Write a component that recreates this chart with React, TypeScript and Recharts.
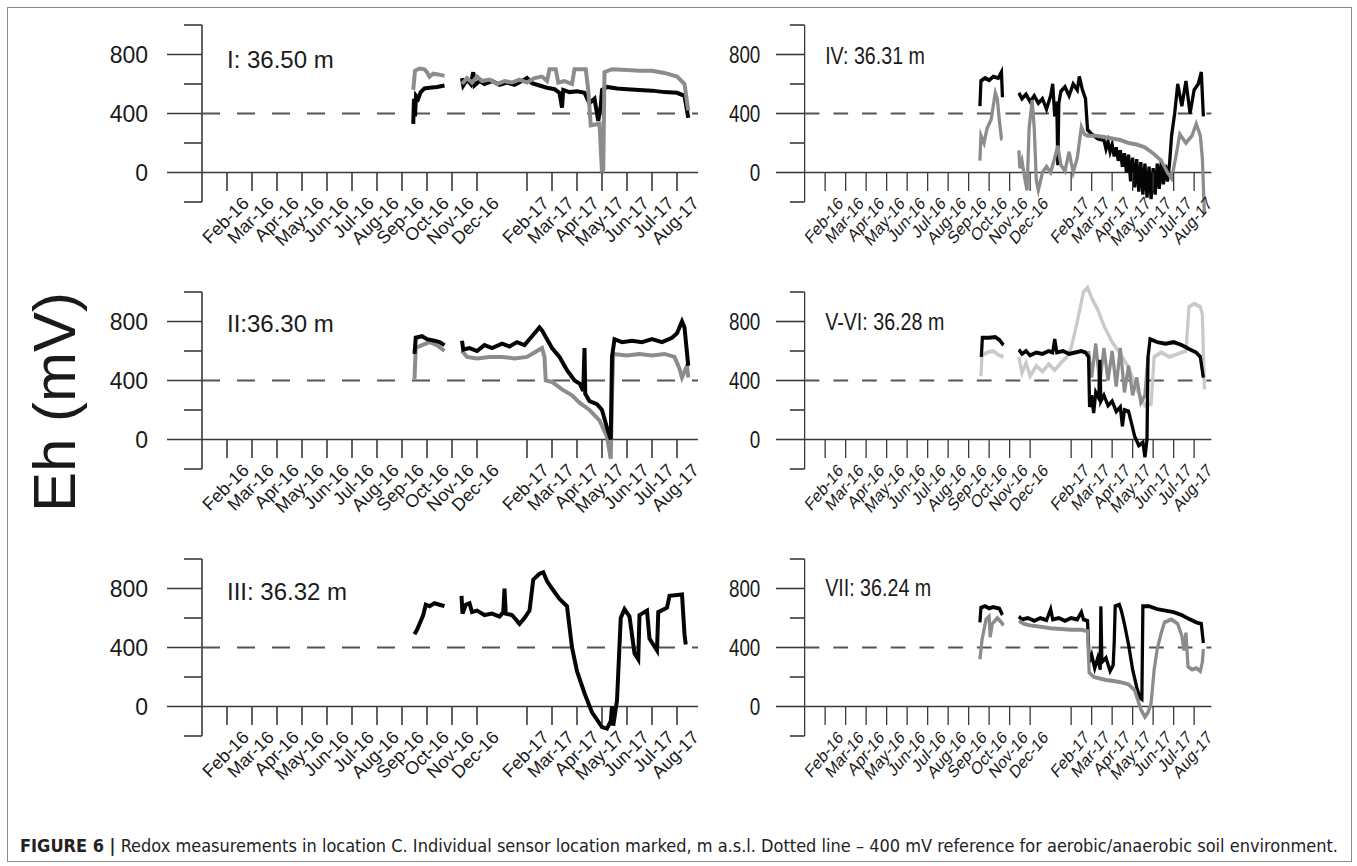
import React from "react"
import { LineChart, Line, XAxis, YAxis, ReferenceLine } from "recharts"

type Pt = [number, number | null]

// x = months counted from Jan-16 (= 0); Jan-17 has no tick
const MONTH_TICKS = [1, 2, 3, 4, 5, 6, 7, 8, 9, 10, 11, 13, 14, 15, 16, 17, 18, 19]
const MONTH_LABELS = [
  "Feb-16", "Mar-16", "Apr-16", "May-16", "Jun-16", "Jul-16", "Aug-16", "Sep-16", "Oct-16",
  "Nov-16", "Dec-16", "Feb-17", "Mar-17", "Apr-17", "May-17", "Jun-17", "Jul-17", "Aug-17",
]
const Y_TICKS = [-200, 0, 200, 400, 600, 800, 1000]
const Y_LABELLED = [0, 400, 800]
const AEROBIC_LIMIT = 400

// I: 36.50 m
const I_BLACK: Pt[] = [
  [8.45, 330], [8.48, 500], [8.52, 380], [8.56, 520], [8.65, 500], [8.75, 545], [8.9, 570], [9.1, 575], [9.4, 580], [9.7, 590], [9.72, null],
  [10.4, 640], [10.45, 590], [10.6, 630], [10.75, 600], [10.85, 680], [10.9, 590], [11.1, 620], [11.3, 600], [11.6, 620], [11.9, 595],
  [12.2, 610], [12.5, 595], [12.8, 620], [13.0, 640], [13.2, 605], [13.5, 590], [13.8, 575], [14.1, 565], [14.3, 540], [14.4, 440],
  [14.45, 560], [14.7, 545], [15.0, 550], [15.3, 540], [15.5, 470], [15.7, 500], [15.85, 350], [15.95, 450], [16.0, 560], [16.2, 580],
  [16.6, 570], [17.0, 565], [17.5, 560], [18.0, 555], [18.5, 545], [19.0, 540], [19.3, 520], [19.45, 370],
]
const I_GRAY: Pt[] = [
  [8.45, 560], [8.52, 690], [8.7, 705], [8.9, 700], [9.0, 680], [9.1, 650], [9.25, 670], [9.45, 665], [9.7, 655], [9.72, null],
  [10.4, 600], [10.6, 640], [10.8, 610], [11.0, 650], [11.2, 620], [11.5, 630], [11.8, 600], [12.1, 620], [12.4, 610], [12.7, 630],
  [13.0, 610], [13.3, 640], [13.6, 650], [13.8, 620], [13.9, 700], [14.15, 700], [14.25, 610], [14.5, 620], [14.8, 600], [14.9, 700],
  [15.35, 700], [15.45, 560], [15.55, 320], [15.9, 330], [16.0, 0], [16.05, 20], [16.1, 680], [16.4, 700], [17.0, 695], [17.5, 690],
  [18.0, 690], [18.5, 675], [19.0, 650], [19.3, 600], [19.45, 420],
]

// II:36.30 m
const II_BLACK: Pt[] = [
  [8.5, 580], [8.55, 690], [8.8, 700], [9.0, 680], [9.3, 670], [9.5, 660], [9.7, 640], [9.72, null],
  [10.4, 670], [10.45, 610], [10.7, 620], [11.0, 600], [11.3, 640], [11.6, 620], [12.0, 650], [12.3, 630], [12.6, 660], [12.9, 640],
  [13.2, 700], [13.5, 760], [13.6, 740], [13.8, 680], [14.0, 620], [14.3, 560], [14.6, 470], [14.9, 400], [15.1, 380], [15.25, 330],
  [15.3, 620], [15.33, 310], [15.5, 260], [15.8, 240], [16.0, 200], [16.2, 80], [16.35, 0], [16.4, 560], [16.5, 680], [16.8, 660],
  [17.2, 670], [17.6, 660], [18.0, 680], [18.4, 660], [18.8, 690], [19.0, 720], [19.2, 800], [19.3, 760], [19.45, 500],
]
const II_GRAY: Pt[] = [
  [8.5, 410], [8.55, 620], [8.8, 640], [9.1, 660], [9.4, 640], [9.7, 600], [9.72, null],
  [10.4, 600], [10.6, 560], [11.0, 550], [11.5, 560], [12.0, 560], [12.5, 550], [13.0, 560], [13.4, 600], [13.6, 620], [13.7, 560],
  [13.75, 400], [14.0, 390], [14.4, 340], [14.8, 300], [15.1, 250], [15.5, 200], [15.9, 130], [16.2, 20], [16.35, -130], [16.4, 300],
  [16.45, 580], [17.0, 570], [17.5, 580], [18.0, 570], [18.5, 580], [18.9, 560], [19.1, 480], [19.2, 420], [19.4, 500], [19.45, 420],
]

// III: 36.32 m
const III_BLACK: Pt[] = [
  [8.5, 490], [8.6, 520], [8.75, 580], [8.85, 620], [8.95, 690], [9.1, 680], [9.3, 700], [9.5, 690], [9.7, 680], [9.72, null],
  [10.38, 750], [10.42, 630], [10.55, 690], [10.7, 700], [10.8, 640], [11.0, 650], [11.3, 620], [11.6, 630], [11.9, 610], [12.05, 640],
  [12.1, 800], [12.15, 630], [12.4, 620], [12.7, 560], [12.9, 600], [13.1, 650], [13.25, 860], [13.5, 900], [13.65, 910], [13.8, 850],
  [14.0, 800], [14.3, 730], [14.6, 680], [14.8, 400], [15.0, 240], [15.3, 90], [15.6, -40], [16.0, -140], [16.2, -150], [16.35, -100],
  [16.4, 0], [16.45, -130], [16.6, 40], [16.75, 600], [16.9, 660], [17.1, 610], [17.3, 360], [17.45, 320], [17.5, 620], [17.8, 650],
  [17.9, 460], [18.2, 380], [18.25, 640], [18.6, 670], [18.7, 750], [19.2, 760], [19.3, 490], [19.35, 420],
]

// IV: 36.31 m
const IV_BLACK: Pt[] = [
  [8.55, 450], [8.6, 620], [8.8, 640], [9.0, 625], [9.2, 650], [9.45, 640], [9.6, 680], [9.65, 510], [9.67, null],
  [10.45, 540], [10.6, 500], [10.8, 530], [11.0, 480], [11.2, 520], [11.4, 470], [11.6, 500], [11.8, 430], [12.0, 520], [12.1, 600],
  [12.2, 380], [12.3, 480], [12.35, 50], [12.4, 470], [12.5, 550], [12.7, 580], [12.9, 520], [13.1, 600], [13.3, 560], [13.4, 650],
  [13.55, 560], [13.7, 500], [13.8, 290], [14.0, 260], [14.3, 230], [14.6, 220], [14.7, 160], [14.8, 210], [14.9, 140], [15.0, 190],
  [15.1, 110], [15.2, 170], [15.3, 80], [15.4, 150], [15.5, 40], [15.6, 130], [15.7, 0], [15.8, 120], [15.9, -60], [16.0, 100],
  [16.1, -100], [16.2, 90], [16.3, -130], [16.4, 70], [16.5, -150], [16.6, 60], [16.7, -170], [16.8, 40], [16.9, -180], [17.0, 30],
  [17.1, -150], [17.2, 60], [17.3, -110], [17.4, 80], [17.5, -80], [17.6, 50], [17.7, -60], [17.8, 60], [17.9, 250], [18.05, 400],
  [18.2, 600], [18.4, 450], [18.6, 620], [18.8, 400], [19.0, 560], [19.2, 600], [19.35, 680], [19.45, 380],
]
const IV_GRAY: Pt[] = [
  [8.55, 80], [8.6, 250], [8.75, 200], [8.9, 300], [9.1, 360], [9.3, 540], [9.4, 500], [9.5, 350], [9.6, 230], [9.65, 230], [9.67, null],
  [10.45, 150], [10.5, 30], [10.6, 80], [10.75, -50], [10.85, -120], [10.95, 300], [11.1, 490], [11.2, 300], [11.3, -50], [11.4, -120],
  [11.6, 0], [11.8, 40], [12.0, 0], [12.2, 100], [12.35, 180], [12.5, 50], [12.7, 10], [12.9, 140], [13.1, 0], [13.3, 100], [13.5, 310],
  [13.65, 260], [13.8, 250], [14.2, 250], [14.6, 240], [15.0, 230], [15.4, 220], [15.8, 200], [16.2, 190], [16.6, 170], [17.0, 130],
  [17.4, 80], [17.7, 0], [17.9, -40], [18.1, 100], [18.3, 260], [18.6, 200], [18.9, 250], [19.1, 330], [19.3, 250], [19.4, 100], [19.5, -280],
]

// V-VI: 36.28 m
const VVI_BLACK: Pt[] = [
  [8.62, 560], [8.67, 690], [9.0, 690], [9.3, 695], [9.5, 675], [9.7, 640], [9.72, null],
  [10.45, 610], [10.6, 580], [10.8, 600], [11.0, 570], [11.3, 590], [11.6, 580], [11.9, 600], [12.1, 590], [12.2, 680], [12.3, 590],
  [12.6, 600], [12.9, 580], [13.2, 590], [13.5, 600], [13.7, 590], [13.85, 560], [13.9, 220], [14.0, 300], [14.1, 180], [14.2, 320],
  [14.35, 280], [14.4, 540], [14.45, 260], [14.6, 300], [14.8, 230], [15.0, 260], [15.2, 190], [15.4, 220], [15.5, 90], [15.6, 200],
  [15.8, 190], [16.0, 80], [16.1, 20], [16.3, -40], [16.5, -20], [16.6, -120], [16.7, 0], [16.75, 560], [16.85, 680], [17.2, 660],
  [17.6, 650], [18.0, 660], [18.4, 640], [18.8, 610], [19.1, 590], [19.3, 560], [19.45, 420],
]
const VVI_MID: Pt[] = [
  [13.85, 600], [14.0, 420], [14.2, 650], [14.4, 380], [14.6, 620], [14.8, 400], [15.0, 600], [15.2, 360], [15.4, 620], [15.6, 320],
  [15.8, 500], [16.0, 300], [16.2, 420], [16.4, 250], [16.6, 300], [16.75, 560],
]
const VVI_LIGHT: Pt[] = [
  [8.6, 430], [8.65, 570], [8.9, 590], [9.2, 600], [9.5, 570], [9.7, 560], [9.72, null],
  [10.45, 560], [10.6, 450], [10.8, 520], [11.0, 430], [11.3, 500], [11.6, 460], [11.9, 510], [12.2, 470], [12.5, 520], [12.8, 560],
  [13.0, 620], [13.3, 800], [13.6, 1000], [13.8, 1030], [14.0, 960], [14.3, 880], [14.6, 770], [15.0, 660], [15.4, 580], [15.8, 490],
  [16.2, 340], [16.6, 230], [16.9, 240], [17.05, 560], [17.4, 590], [17.8, 560], [18.2, 580], [18.6, 600], [18.75, 900], [19.0, 920],
  [19.3, 900], [19.4, 850], [19.5, 340],
]

// VII: 36.24 m
const VII_BLACK: Pt[] = [
  [8.55, 570], [8.6, 670], [8.8, 680], [9.0, 665], [9.2, 675], [9.5, 665], [9.65, 620], [9.67, null],
  [10.45, 610], [10.6, 590], [10.9, 600], [11.2, 580], [11.5, 600], [11.8, 585], [12.0, 660], [12.1, 590], [12.4, 600], [12.7, 580],
  [13.0, 600], [13.3, 590], [13.5, 640], [13.6, 590], [13.8, 580], [13.88, 300], [14.0, 350], [14.15, 260], [14.3, 330], [14.42, 250],
  [14.45, 680], [14.5, 300], [14.7, 330], [14.9, 240], [15.05, 280], [15.1, 430], [15.15, 680], [15.35, 690], [15.45, 650], [15.6, 560],
  [15.8, 420], [16.0, 250], [16.2, 130], [16.35, 60], [16.45, 50], [16.5, 680], [16.8, 680], [17.2, 660], [17.6, 650], [18.0, 640],
  [18.4, 620], [18.8, 590], [19.1, 570], [19.35, 560], [19.45, 430],
]
const VII_GRAY: Pt[] = [
  [8.55, 320], [8.65, 450], [8.85, 590], [9.0, 610], [9.05, 470], [9.15, 560], [9.4, 600], [9.6, 570], [9.7, 550], [9.72, null],
  [10.45, 580], [10.7, 560], [11.0, 550], [11.5, 540], [12.0, 530], [12.5, 525], [13.0, 520], [13.5, 520], [13.8, 510], [13.88, 230],
  [14.1, 200], [14.4, 190], [14.7, 180], [15.0, 175], [15.4, 165], [15.8, 150], [16.1, 110], [16.4, -20], [16.6, -70], [16.75, -40],
  [16.9, 20], [17.05, 250], [17.2, 390], [17.4, 500], [17.55, 570], [17.9, 590], [18.2, 560], [18.4, 480], [18.5, 380], [18.6, 500],
  [18.7, 270], [18.9, 250], [19.1, 260], [19.3, 240], [19.4, 300], [19.45, 390],
]

const BLACK = "#050505"
const GRAY = "#8c8c8c"
const LIGHT = "#c9c9c9"
const AXIS = "#3a3a3a"
const FONT = '"Liberation Sans", Arial, Helvetica, sans-serif'

// panel geometry (px per mV is shared by all six panels)
const PX = 177 / 1200
const Y_MIN = -330
const Y_MAX = 1080
const X_MAX = 19.84
const CH_W = 730
const CH_H = 267
const M_TOP = 25 - (Y_MAX - 1000) * PX
const PLOT_H = (Y_MAX - Y_MIN) * PX
const M_BOTTOM = CH_H - M_TOP - PLOT_H - 30
// the right-hand column of the figure is squeezed horizontally
const RIGHT_SQUEEZE = 0.82

type Series = { pts: Pt[]; color: string }
type Panel = { title: string; left: number; top: number; sx: number; titleY: number; series: Series[] }

const PANELS: Panel[] = [
  { title: "I: 36.50 m", left: 0, top: 0, sx: 1, titleY: 68, series: [{ pts: I_BLACK, color: BLACK }, { pts: I_GRAY, color: GRAY }] },
  { title: "IV: 36.31 m", left: 639, top: 0, sx: RIGHT_SQUEEZE, titleY: 64, series: [{ pts: IV_BLACK, color: BLACK }, { pts: IV_GRAY, color: GRAY }] },
  { title: "II:36.30 m", left: 0, top: 267, sx: 1, titleY: 65, series: [{ pts: II_GRAY, color: GRAY }, { pts: II_BLACK, color: BLACK }] },
  {
    title: "V-VI: 36.28 m", left: 639, top: 267, sx: RIGHT_SQUEEZE, titleY: 63,
    series: [{ pts: VVI_LIGHT, color: LIGHT }, { pts: VVI_MID, color: GRAY }, { pts: VVI_BLACK, color: BLACK }],
  },
  { title: "III: 36.32 m", left: 0, top: 534, sx: 1, titleY: 66, series: [{ pts: III_BLACK, color: BLACK }] },
  { title: "VII: 36.24 m", left: 639, top: 534, sx: RIGHT_SQUEEZE, titleY: 62, series: [{ pts: VII_BLACK, color: BLACK }, { pts: VII_GRAY, color: GRAY }] },
]

function YTick(props: any) {
  const { x, y, payload } = props
  const major = Y_LABELLED.includes(payload.value)
  const len = major ? 35 : 18
  return (
    <g>
      <line x1={x - len} y1={y} x2={x} y2={y} stroke={AXIS} strokeWidth={1.6} />
      {major && (
        <text x={x - len - 19} y={y} textAnchor="end" dominantBaseline="central" fontSize={23} fontFamily={FONT} fill="#1a1a1a">
          {payload.value}
        </text>
      )}
    </g>
  )
}

function XTick(props: any) {
  const { x, y, payload } = props
  const zeroY = y - (0 - Y_MIN) * PX
  const label = MONTH_LABELS[MONTH_TICKS.indexOf(payload.value)]
  const lx = x + 23
  const ly = zeroY + 32
  return (
    <g>
      <line x1={x} y1={zeroY} x2={x} y2={zeroY + 18.5} stroke={AXIS} strokeWidth={1.6} />
      <text x={lx} y={ly} transform={`rotate(-45 ${lx} ${ly})`} textAnchor="end" fontSize={18} fontFamily={FONT} fill="#1a1a1a">
        {label}
      </text>
    </g>
  )
}

function RedoxPanel({ panel }: { panel: Panel }) {
  return (
    <div
      style={{
        position: "absolute",
        left: panel.left,
        top: panel.top,
        width: CH_W,
        height: CH_H,
        transform: `scaleX(${panel.sx})`,
        transformOrigin: "0 0",
      }}
    >
      <LineChart width={CH_W} height={CH_H} margin={{ top: M_TOP, right: CH_W - 698, bottom: M_BOTTOM, left: 102 }}>
        <XAxis
          type="number"
          dataKey="t"
          domain={[0, X_MAX]}
          ticks={MONTH_TICKS}
          interval={0}
          axisLine={false}
          tickLine={false}
          tickSize={0}
          tickMargin={0}
          height={30}
          tick={<XTick />}
        />
        <YAxis
          type="number"
          domain={[Y_MIN, Y_MAX]}
          ticks={Y_TICKS}
          interval={0}
          axisLine={false}
          tickLine={false}
          tickSize={0}
          tickMargin={0}
          width={100}
          tick={<YTick />}
        />
        <ReferenceLine segment={[{ x: 0, y: -200 }, { x: 0, y: 1000 }]} stroke={AXIS} strokeWidth={1.6} />
        <ReferenceLine y={0} stroke={AXIS} strokeWidth={1.6} />
        <ReferenceLine y={AEROBIC_LIMIT} stroke="#555" strokeWidth={1.8} strokeDasharray="18 17" />
        {panel.series.map((s, i) => (
          <Line
            key={i}
            data={s.pts.map(([t, v]) => ({ t, v }))}
            dataKey="v"
            type="linear"
            stroke={s.color}
            strokeWidth={4}
            dot={false}
            activeDot={false}
            connectNulls={false}
            isAnimationActive={false}
          />
        ))}
      </LineChart>
      <svg width={CH_W} height={CH_H} style={{ position: "absolute", left: 0, top: 0, pointerEvents: "none" }}>
        <text x={227} y={panel.titleY} fontSize={24} fontFamily={FONT} fill="#1a1a1a">
          {panel.title}
        </text>
      </svg>
    </div>
  )
}

export default function App() {
  return (
    <div style={{ position: "absolute", left: 0, top: 0, width: 1357, height: 866, overflow: "hidden", background: "#fff" }}>
      {PANELS.map((p) => (
        <RedoxPanel key={p.title} panel={p} />
      ))}
      <svg width={1357} height={866} style={{ position: "absolute", left: 0, top: 0, pointerEvents: "none" }}>
        <text x={54} y={402} transform="rotate(-90 54 402)" textAnchor="middle" dominantBaseline="central" fontSize={60} fontFamily={FONT} fill="#1a1a1a">
          Eh (mV)
        </text>
        <text x={20} y={852} fontSize={17} fontFamily={'"Liberation Sans Narrow", "DejaVu Sans Condensed", sans-serif'} fill="#222" textLength={1318} lengthAdjust="spacingAndGlyphs">
          <tspan fontWeight="bold">FIGURE 6 |</tspan>
          <tspan> Redox measurements in location C. Individual sensor location marked, m a.s.l. Dotted line – 400 mV reference for aerobic/anaerobic soil environment.</tspan>
        </text>
      </svg>
      <div style={{ position: "absolute", left: 7, top: 7, width: 1345, height: 855, border: "1px solid #8a8a8a", boxSizing: "border-box" }} />
    </div>
  )
}
